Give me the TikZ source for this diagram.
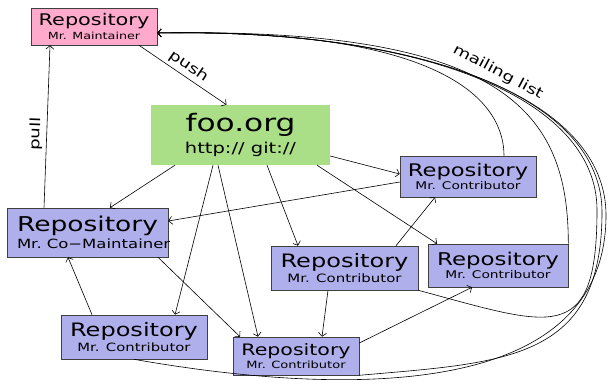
\documentclass[tikz,border=0pt]{standalone}
\usepackage{fontspec}
\setmainfont{DejaVu Sans}[FakeStretch=1.3]
\usetikzlibrary{arrows,arrows.meta,positioning,calc}

\definecolor{maintpink}{RGB}{255,170,204}
\definecolor{repoblue}{RGB}{175,175,235}
\definecolor{servgreen}{RGB}{170,222,135}

\newcommand{\repotext}[3]{{\fontsize{#1}{#1}\selectfont Repository}\\[1.5pt]{\fontsize{#2}{#2}\selectfont #3}}

\begin{document}
\begin{tikzpicture}[x=1pt,y=1pt,repo/.style={draw=black!75,line width=0.6pt,inner sep=0pt,align=center}, maintainer/.style={repo,fill=maintpink}, contributor/.style={repo,fill=repoblue}, server/.style={fill=servgreen,inner sep=0pt,align=center}, edge/.style={->,>={Straight Barb[length=3.5pt,width=8pt]},line width=0.6pt}, list_edge/.style={edge,out=90,in=1}, list_top/.style={out=90,in=1,out looseness=0.61,in looseness=1.42}, label_text/.style={font=\fontsize{14}{14}\selectfont}]
\useasboundingbox (0,0) rectangle (609,385);
\node(maint)[maintainer,minimum width=126,minimum height=37] at (94,358.5){\repotext{16}{9.8}{Mr. Maintainer}};
\node(foo)[server,minimum width=179,minimum height=60] at (240.5,250){{\fontsize{24}{24}\selectfont foo.org}\\[4pt]{\fontsize{15}{15}\selectfont http:// git://}};
\node(contA)[contributor,minimum width=136,minimum height=41] at (468,208.5){\repotext{17.4}{10.6}{Mr. Contributor}};
\node(comaint)[contributor,minimum width=161,minimum height=49,text width=141,inner xsep=10,align=left] at (87.5,152.5){\repotext{20.4}{12.7}{\mbox{Mr. Co−Maintainer}}};
\node(contB)[contributor,minimum width=147,minimum height=44] at (344.5,117){\repotext{18.5}{11.5}{Mr. Contributor}};
\node(contC)[contributor,minimum width=140,minimum height=43] at (498,119.5){\repotext{17.6}{10.6}{Mr. Contributor}};
\node(contD)[contributor,minimum width=146,minimum height=44] at (134,48){\repotext{18.5}{11.4}{Mr. Contributor}};
\node(contE)[contributor,minimum width=126,minimum height=38] at (296,29){\repotext{15.8}{10}{Mr. Contributor}};
% push / pull
\draw [edge] ([xshift=45]maint.south) to node(pushlabel)[sloped,above,label_text]{push} ([xshift=-14]foo.north);
\draw [edge] ([xshift=-43.5]comaint.north) to node(pulllabel)[sloped,above,pos=0.45,label_text]{pull} ([xshift=-44]maint.south);
% clones
\draw [edge] ([xshift=-65.5]foo.south) to ([xshift=22.5]comaint.north);
\draw [edge] ([yshift=-21]foo.east) to ([yshift=2.5]contA.west);
\draw [edge] ([yshift=-5.5]contA.west) to ([yshift=11.5]comaint.east);
\draw [edge] ([xshift=-27.5]foo.south) to ([xshift=41]contD.north);
\draw [edge] ([xshift=-22.5]foo.south) to ([xshift=-38]contE.north);
\draw [edge] ([xshift=26.5]foo.south) to ([xshift=-46.5]contB.north);
\draw [edge] ([xshift=76.5]foo.south) to ([xshift=-61]contC.north);
\draw [edge] ([xshift=70.5]comaint.south) to ([xshift=-56]contE.north);
\draw [edge] ([xshift=-42]contD.north) to ([xshift=-19.5]comaint.south);
\draw [edge] ([xshift=51.5]contB.north) to ([xshift=-33]contA.south);
\draw [edge] ([xshift=-16.5]contB.south) to ([xshift=26]contE.north);
\draw [edge] ([yshift=13]contE.east) to ([xshift=-26]contC.south);
% mailing list
\coordinate (ml) at ([yshift=-6.5]maint.east);
\coordinate (rB) at (597,175);
\coordinate (rE) at (602,173);
\coordinate (rD) at (606,170);
\draw [list_edge] ([xshift=36]contA.north) to[out looseness=0.33,in looseness=2.1] (ml);
\draw [list_edge] (contC.north east) to[out looseness=0.72,in looseness=1.94] (ml);
\draw [list_edge] (contB.south east) to[out=-15,in=-90,looseness=1.8] (rB) to[list_top] (ml);
\draw [list_edge] (contE.south east) to[out=5,in=-90,looseness=1.3] (rE) to[list_top] (ml);
\draw [list_edge] (contD.south) to[out=-10,in=-90] (rD) to[list_top] (ml);
\node(mllabel)[label_text,rotate=-28] at (498,313){mailing list};
\end{tikzpicture}
\end{document}
